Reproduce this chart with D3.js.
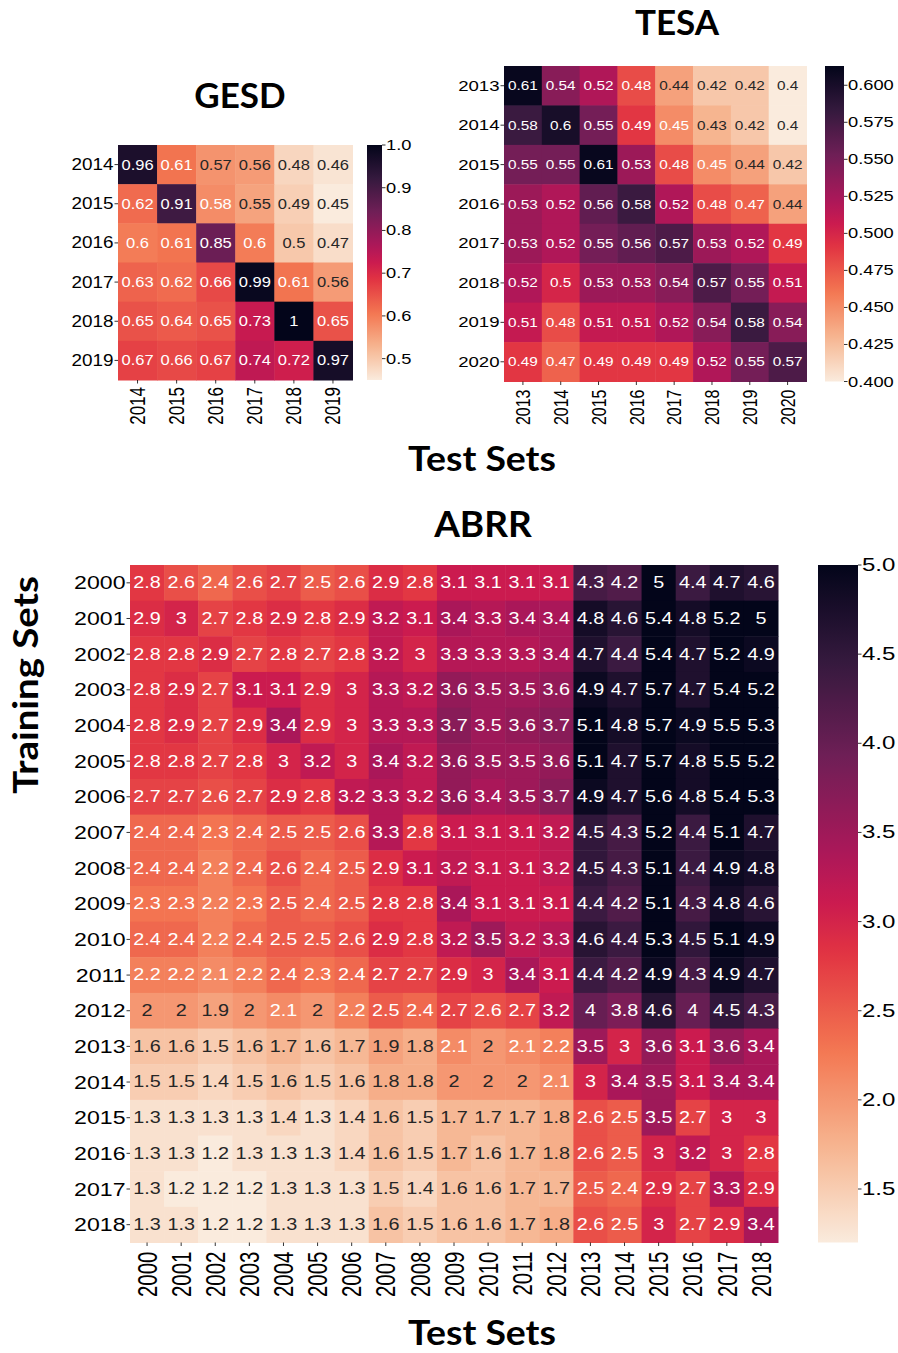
<!DOCTYPE html>
<html>
<head>
<meta charset="utf-8">
<script src="https://cdn.jsdelivr.net/npm/d3@7"></script>
<style>
  html, body { margin: 0; padding: 0; background: #fff; }
  svg { display: block; }
</style>
</head>
<body>
<svg id="chart" width="898" height="1353"></svg>
<script>
// ---------------- DATA ----------------
const gesdYears = ["2014", "2015", "2016", "2017", "2018", "2019"];
const gesdValues = [
  [0.96, 0.61, 0.57, 0.56, 0.48, 0.46],
  [0.62, 0.91, 0.58, 0.55, 0.49, 0.45],
  [0.60, 0.61, 0.85, 0.60, 0.50, 0.47],
  [0.63, 0.62, 0.66, 0.99, 0.61, 0.56],
  [0.65, 0.64, 0.65, 0.73, 1.00, 0.65],
  [0.67, 0.66, 0.67, 0.74, 0.72, 0.97]
];
const gesdTicks = [0.5, 0.6, 0.7, 0.8, 0.9, 1.0];

const tesaYears = ["2013", "2014", "2015", "2016", "2017", "2018", "2019", "2020"];
const tesaValues = [
  [0.61, 0.54, 0.52, 0.48, 0.44, 0.42, 0.42, 0.40],
  [0.58, 0.60, 0.55, 0.49, 0.45, 0.43, 0.42, 0.40],
  [0.55, 0.55, 0.61, 0.53, 0.48, 0.45, 0.44, 0.42],
  [0.53, 0.52, 0.56, 0.58, 0.52, 0.48, 0.47, 0.44],
  [0.53, 0.52, 0.55, 0.56, 0.57, 0.53, 0.52, 0.49],
  [0.52, 0.50, 0.53, 0.53, 0.54, 0.57, 0.55, 0.51],
  [0.51, 0.48, 0.51, 0.51, 0.52, 0.54, 0.58, 0.54],
  [0.49, 0.47, 0.49, 0.49, 0.49, 0.52, 0.55, 0.57]
];
const tesaTicks = [0.400, 0.425, 0.450, 0.475, 0.500, 0.525, 0.550, 0.575, 0.600];

const abrrYears = ["2000", "2001", "2002", "2003", "2004", "2005", "2006", "2007", "2008", "2009",
                   "2010", "2011", "2012", "2013", "2014", "2015", "2016", "2017", "2018"];
const abrrValues = [
  [2.8, 2.6, 2.4, 2.6, 2.7, 2.5, 2.6, 2.9, 2.8, 3.1, 3.1, 3.1, 3.1, 4.3, 4.2, 5.0, 4.4, 4.7, 4.6],
  [2.9, 3.0, 2.7, 2.8, 2.9, 2.8, 2.9, 3.2, 3.1, 3.4, 3.3, 3.4, 3.4, 4.8, 4.6, 5.4, 4.8, 5.2, 5.0],
  [2.8, 2.8, 2.9, 2.7, 2.8, 2.7, 2.8, 3.2, 3.0, 3.3, 3.3, 3.3, 3.4, 4.7, 4.4, 5.4, 4.7, 5.2, 4.9],
  [2.8, 2.9, 2.7, 3.1, 3.1, 2.9, 3.0, 3.3, 3.2, 3.6, 3.5, 3.5, 3.6, 4.9, 4.7, 5.7, 4.7, 5.4, 5.2],
  [2.8, 2.9, 2.7, 2.9, 3.4, 2.9, 3.0, 3.3, 3.3, 3.7, 3.5, 3.6, 3.7, 5.1, 4.8, 5.7, 4.9, 5.5, 5.3],
  [2.8, 2.8, 2.7, 2.8, 3.0, 3.2, 3.0, 3.4, 3.2, 3.6, 3.5, 3.5, 3.6, 5.1, 4.7, 5.7, 4.8, 5.5, 5.2],
  [2.7, 2.7, 2.6, 2.7, 2.9, 2.8, 3.2, 3.3, 3.2, 3.6, 3.4, 3.5, 3.7, 4.9, 4.7, 5.6, 4.8, 5.4, 5.3],
  [2.4, 2.4, 2.3, 2.4, 2.5, 2.5, 2.6, 3.3, 2.8, 3.1, 3.1, 3.1, 3.2, 4.5, 4.3, 5.2, 4.4, 5.1, 4.7],
  [2.4, 2.4, 2.2, 2.4, 2.6, 2.4, 2.5, 2.9, 3.1, 3.2, 3.1, 3.1, 3.2, 4.5, 4.3, 5.1, 4.4, 4.9, 4.8],
  [2.3, 2.3, 2.2, 2.3, 2.5, 2.4, 2.5, 2.8, 2.8, 3.4, 3.1, 3.1, 3.1, 4.4, 4.2, 5.1, 4.3, 4.8, 4.6],
  [2.4, 2.4, 2.2, 2.4, 2.5, 2.5, 2.6, 2.9, 2.8, 3.2, 3.5, 3.2, 3.3, 4.6, 4.4, 5.3, 4.5, 5.1, 4.9],
  [2.2, 2.2, 2.1, 2.2, 2.4, 2.3, 2.4, 2.7, 2.7, 2.9, 3.0, 3.4, 3.1, 4.4, 4.2, 4.9, 4.3, 4.9, 4.7],
  [2.0, 2.0, 1.9, 2.0, 2.1, 2.0, 2.2, 2.5, 2.4, 2.7, 2.6, 2.7, 3.2, 4.0, 3.8, 4.6, 4.0, 4.5, 4.3],
  [1.6, 1.6, 1.5, 1.6, 1.7, 1.6, 1.7, 1.9, 1.8, 2.1, 2.0, 2.1, 2.2, 3.5, 3.0, 3.6, 3.1, 3.6, 3.4],
  [1.5, 1.5, 1.4, 1.5, 1.6, 1.5, 1.6, 1.8, 1.8, 2.0, 2.0, 2.0, 2.1, 3.0, 3.4, 3.5, 3.1, 3.4, 3.4],
  [1.3, 1.3, 1.3, 1.3, 1.4, 1.3, 1.4, 1.6, 1.5, 1.7, 1.7, 1.7, 1.8, 2.6, 2.5, 3.5, 2.7, 3.0, 3.0],
  [1.3, 1.3, 1.2, 1.3, 1.3, 1.3, 1.4, 1.6, 1.5, 1.7, 1.6, 1.7, 1.8, 2.6, 2.5, 3.0, 3.2, 3.0, 2.8],
  [1.3, 1.2, 1.2, 1.2, 1.3, 1.3, 1.3, 1.5, 1.4, 1.6, 1.6, 1.7, 1.7, 2.5, 2.4, 2.9, 2.7, 3.3, 2.9],
  [1.3, 1.3, 1.2, 1.2, 1.3, 1.3, 1.3, 1.6, 1.5, 1.6, 1.6, 1.7, 1.8, 2.6, 2.5, 3.0, 2.7, 2.9, 3.4]
];
const abrrTicks = [1.5, 2.0, 2.5, 3.0, 3.5, 4.0, 4.5, 5.0];

// rocket colormap anchor colours (dark -> light)
const rocketStops = [0, 0.143, 0.286, 0.429, 0.5, 0.571, 0.714, 0.857, 1];
const rocketColors = ["#03051a", "#35193e", "#701f57", "#ad1759", "#cb1b4f", "#e13342", "#f37651", "#f6b48f", "#faebdd"];

// ---------------- DRAWING ----------------
const svg = d3.select("#chart");
const tickFont = "'Liberation Sans', Arial, sans-serif";
const titleFont = "Lato, 'Open Sans', sans-serif";

const rocket = d3.scaleLinear().domain(rocketStops).range(rocketColors)
  .interpolate(d3.interpolateRgb).clamp(true);

function relLum(c) {
  const rgb = d3.rgb(c);
  const f = v => { v /= 255; return v <= 0.03928 ? v / 12.92 : Math.pow((v + 0.055) / 1.055, 2.4); };
  return 0.2126 * f(rgb.r) + 0.7152 * f(rgb.g) + 0.0722 * f(rgb.b);
}

function stretchedText(g, x, y, txt, size, anchor, opts = {}) {
  const sx = opts.sx || 1.18;
  const rot = opts.rotate ? ` rotate(${opts.rotate})` : "";
  return g.append("text")
    .attr("transform", `translate(${x},${y}) scale(${sx},1)${rot}`)
    .attr("text-anchor", anchor)
    .attr("font-family", opts.family || tickFont)
    .attr("font-weight", opts.weight || "normal")
    .attr("font-size", size)
    .attr("fill", opts.fill || "#000")
    .attr("dominant-baseline", opts.baseline || "auto")
    .text(txt);
}

function heatmap(cfg) {
  const g = svg.append("g");
  const x = d3.scaleBand().domain(cfg.cols).range([cfg.x0, cfg.x1]);
  const y = d3.scaleBand().domain(cfg.rows).range([cfg.y0, cfg.y1]);
  const norm = d3.scaleLinear().domain([cfg.vmin, cfg.vmax]).range([1, 0]).clamp(true);
  const color = v => rocket(norm(v));
  const fmt = d3.format(".2~g");

  const cells = [];
  cfg.values.forEach((row, i) => row.forEach((v, j) => cells.push({ r: cfg.rows[i], c: cfg.cols[j], v })));

  g.selectAll("rect.cell").data(cells).enter().append("rect")
    .attr("class", "cell")
    .attr("x", d => x(d.c)).attr("y", d => y(d.r))
    .attr("width", x.bandwidth() + 0.5).attr("height", y.bandwidth() + 0.5)
    .attr("fill", d => color(d.v));

  cells.forEach(d => {
    const fill = color(d.v);
    const tc = relLum(fill) > 0.408 ? "#262626" : "#ffffff";
    stretchedText(g, x(d.c) + x.bandwidth() / 2, y(d.r) + y.bandwidth() / 2, fmt(d.v),
      cfg.annotSize, "middle", { fill: tc, baseline: "central", sx: cfg.sx });
  });

  // y ticks
  cfg.rows.forEach(r => {
    const yy = y(r) + y.bandwidth() / 2;
    g.append("line").attr("x1", cfg.x0 - 3.5).attr("x2", cfg.x0).attr("y1", yy).attr("y2", yy)
      .attr("stroke", "#000").attr("stroke-width", 0.8);
    stretchedText(g, cfg.x0 - 4.5, yy, r, cfg.tickSize, "end", { baseline: "central", sx: cfg.ysx });
  });
  // x ticks
  cfg.cols.forEach(c => {
    const xx = x(c) + x.bandwidth() / 2;
    g.append("line").attr("x1", xx).attr("x2", xx).attr("y1", cfg.y1).attr("y2", cfg.y1 + 3.5)
      .attr("stroke", "#000").attr("stroke-width", 0.8);
    stretchedText(g, xx, cfg.y1 + cfg.xPad, c, cfg.xTickSize, "end",
      { baseline: "central", rotate: -90, sx: cfg.xsx });
  });

  // colorbar
  const cb = d3.scaleLinear().domain([cfg.vmin, cfg.vmax]).range([cfg.y1, cfg.y0]);
  const gradId = "grad-" + cfg.name;
  const grad = svg.append("defs").append("linearGradient").attr("id", gradId)
    .attr("x1", 0).attr("x2", 0).attr("y1", 1).attr("y2", 0);
  d3.range(0, 1.0001, 0.02).forEach(t => {
    grad.append("stop").attr("offset", t).attr("stop-color", color(cfg.vmin + t * (cfg.vmax - cfg.vmin)));
  });
  g.append("rect").attr("x", cfg.cbx).attr("y", cfg.y0).attr("width", cfg.cbw).attr("height", cfg.y1 - cfg.y0)
    .attr("fill", `url(#${gradId})`);
  const tf = d3.format(cfg.cbFormat);
  cfg.cbTicks.forEach(t => {
    const yy = cb(t);
    g.append("line").attr("x1", cfg.cbx + cfg.cbw).attr("x2", cfg.cbx + cfg.cbw + 3.5).attr("y1", yy).attr("y2", yy)
      .attr("stroke", "#000").attr("stroke-width", 0.8);
    stretchedText(g, cfg.cbx + cfg.cbw + 4, yy, tf(t), cfg.cbSize, "start", { baseline: "central", sx: cfg.cbsx });
  });

  // title
  svg.append("text").attr("x", cfg.titleX).attr("y", cfg.titleY)
    .attr("text-anchor", "middle").attr("font-family", titleFont).attr("font-weight", "bold")
    .attr("font-size", cfg.titleSize).text(cfg.name);
}

heatmap({
  name: "GESD", rows: gesdYears, cols: gesdYears, values: gesdValues,
  x0: 118, x1: 352.5, y0: 145, y1: 380, vmin: 0.45, vmax: 1.0,
  annotSize: 14, tickSize: 16, cbSize: 15.5, xTickSize: 17, xPad: 7,
  sx: 1.18, ysx: 1.18, xsx: 1.25, cbsx: 1.18,
  cbx: 367, cbw: 15, cbTicks: gesdTicks, cbFormat: ".1f",
  titleX: 240, titleY: 108, titleSize: 35
});

heatmap({
  name: "TESA", rows: tesaYears, cols: tesaYears, values: tesaValues,
  x0: 504, x1: 806.5, y0: 66, y1: 381.5, vmin: 0.40, vmax: 0.613,
  annotSize: 13, tickSize: 15.5, cbSize: 15.5, xTickSize: 16, xPad: 8,
  sx: 1.18, ysx: 1.2, xsx: 1.3, cbsx: 1.18,
  cbx: 825, cbw: 19, cbTicks: tesaTicks, cbFormat: ".3f",
  titleX: 677, titleY: 35, titleSize: 35
});

heatmap({
  name: "ABRR", rows: abrrYears, cols: abrrYears, values: abrrValues,
  x0: 130, x1: 778, y0: 565, y1: 1242.5, vmin: 1.2, vmax: 5.0,
  annotSize: 16.5, tickSize: 18.5, cbSize: 18.5, xTickSize: 20.5, xPad: 9,
  sx: 1.2, ysx: 1.25, xsx: 1.35, cbsx: 1.3,
  cbx: 818, cbw: 40, cbTicks: abrrTicks, cbFormat: ".1f",
  titleX: 483, titleY: 537, titleSize: 37
});

// axis labels
function boldLabel(x, y, txt, size, sx, rot) {
  svg.append("text")
    .attr("transform", `translate(${x},${y})${rot ? ` rotate(${rot})` : ""} scale(${sx},1)`)
    .attr("text-anchor", "middle")
    .attr("font-family", titleFont).attr("font-weight", "bold").attr("font-size", size).text(txt);
}
boldLabel(482, 471, "Test Sets", 34, 1.1, 0);
boldLabel(482, 1345, "Test Sets", 34, 1.1, 0);
boldLabel(38, 685, "Training Sets", 34, 1.13, -90);
</script>
</body>
</html>
